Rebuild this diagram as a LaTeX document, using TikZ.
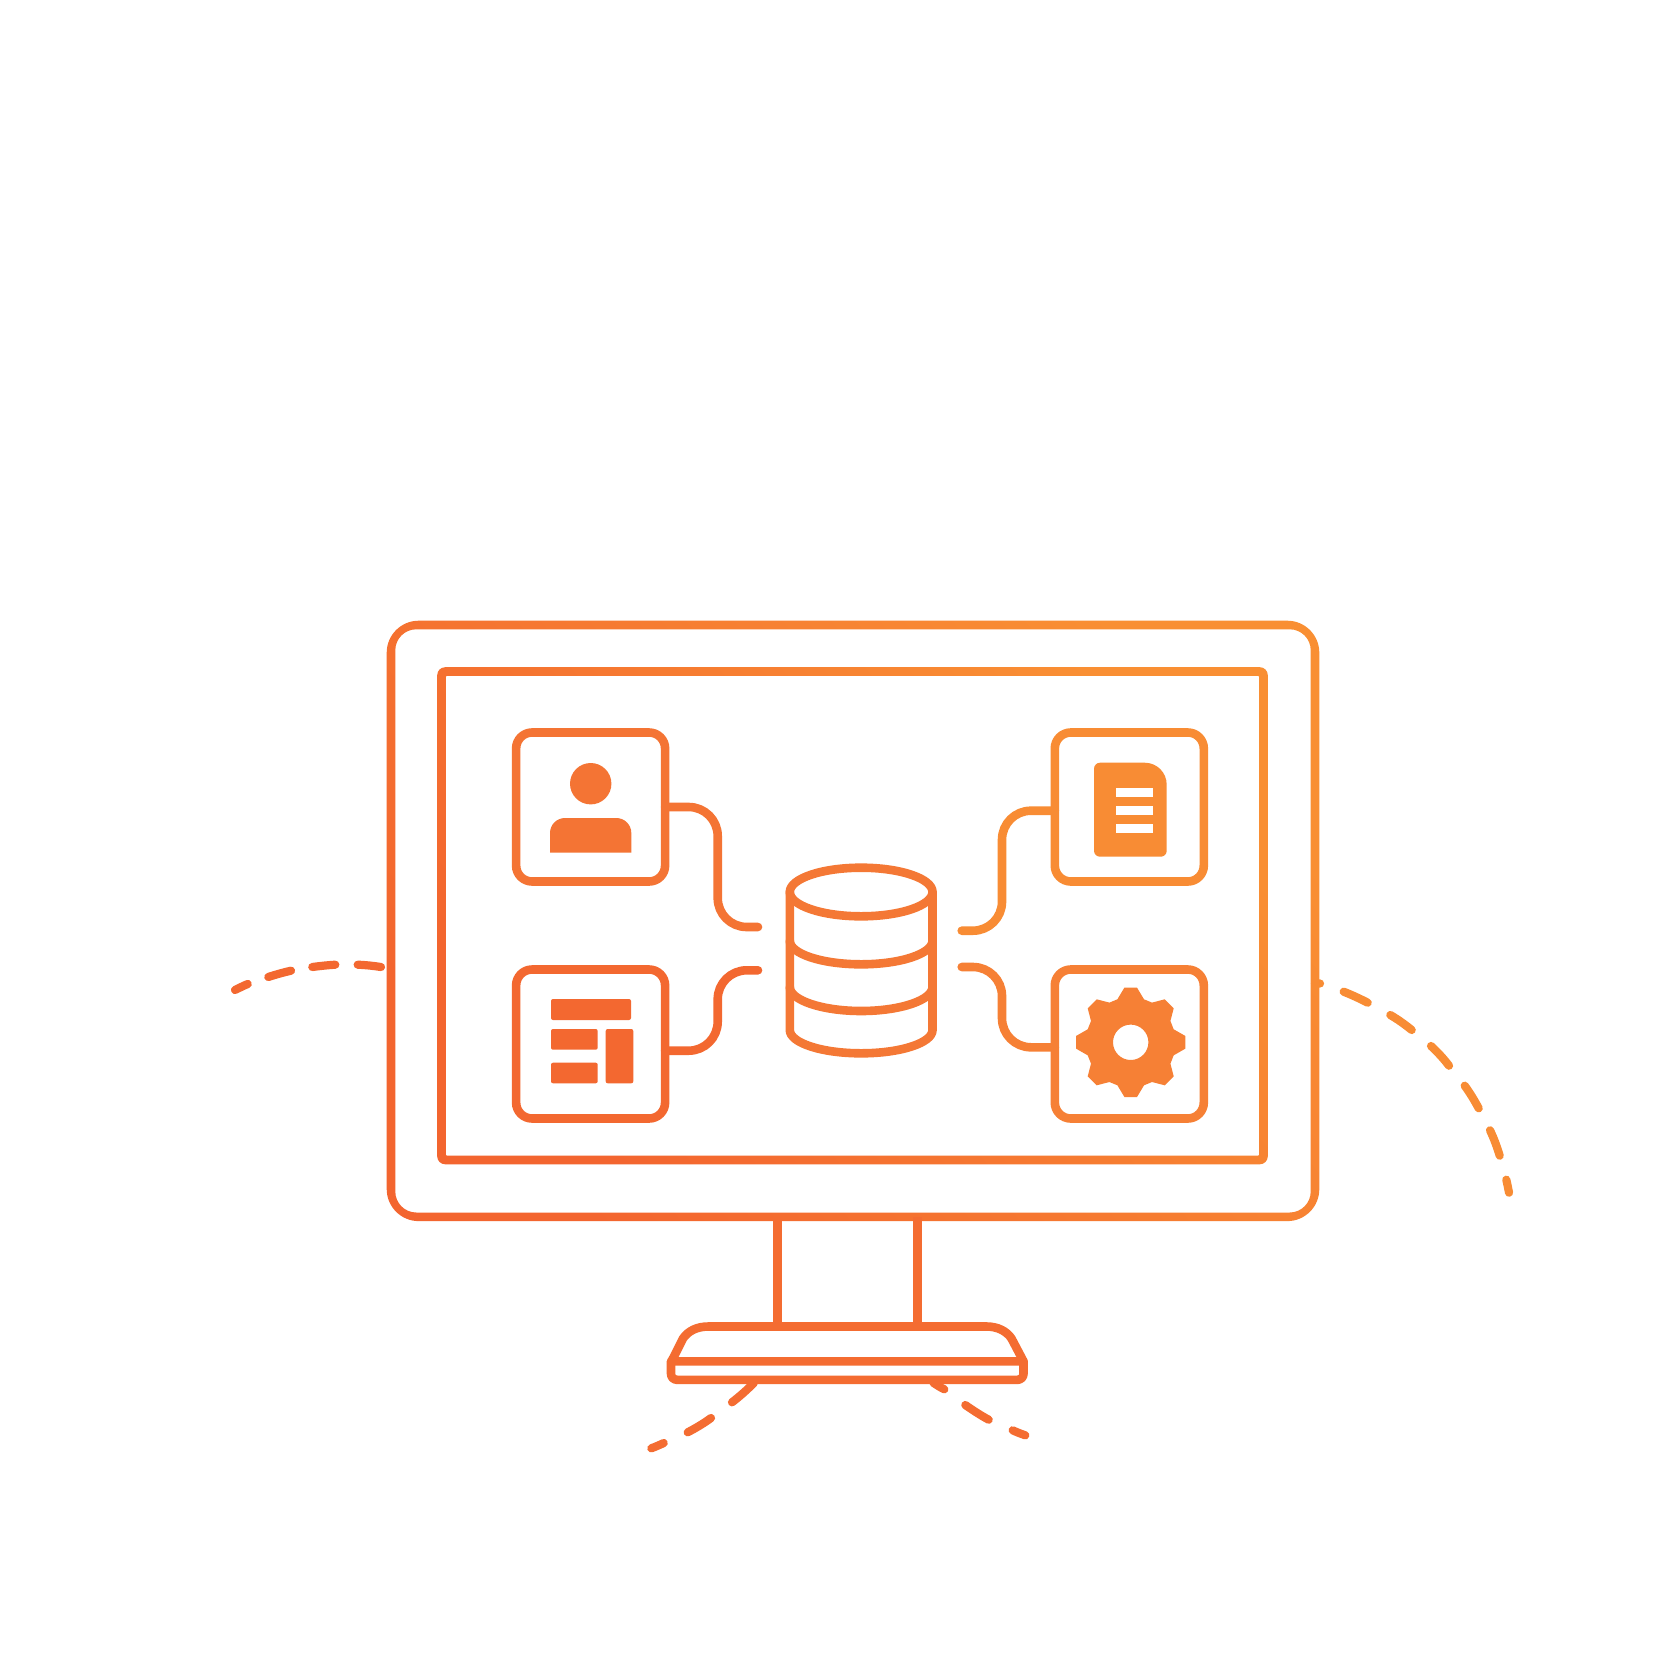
\documentclass[tikz,border=0pt]{standalone}
\usetikzlibrary{calc}
\definecolor{cA}{HTML}{F3652F}
\definecolor{cB}{HTML}{F98F33}
\definecolor{cLeftA}{HTML}{F47434}
\definecolor{cLeftB}{HTML}{F36830}
\definecolor{cRightA}{HTML}{F88C34}
\definecolor{cRightB}{HTML}{F68035}
\definecolor{cMid}{HTML}{F47835}
\definecolor{cStand}{HTML}{F46C31}
\tikzset{
  stroke/.style={line width=8.6pt,line join=round,line cap=round},
  iconbox/.style={draw=#1,fill=none,line width=8.6pt,rounded corners=16pt,
    minimum width=149pt,minimum height=149pt,inner sep=0pt,outer sep=0pt},
  link/.style={stroke,draw=#1,rounded corners=29pt},
  dashseg/.style={line width=8.2pt,line cap=round,draw=#1},
  gradring/.style={bottom color=cA,top color=cB,shading angle=-50,even odd rule},
}
\begin{document}
\begin{tikzpicture}[x=1pt,y=-1pt]
\useasboundingbox (0,0) rectangle (1667,1667);
\fill[white] (0,0) rectangle (1667,1667);

% dashed orbit
\draw[dashseg=cLeftB] (235,990) .. controls (239,988) and (243,986) .. (247.7,984);
\draw[dashseg=cLeftB] (268.3,977) .. controls (276,974.5) and (283,972.5) .. (291,970.7);
\draw[dashseg=cLeftB] (312.3,967) .. controls (320,966) and (327,965.2) .. (335.3,964.7);
\draw[dashseg=cLeftB] (357.7,964.7) .. controls (366,965) and (373,965.8) .. (381,967);
\draw[dashseg=cRightA] (1315,983.4) -- (1320,983.5);
\draw[dashseg=cRightA] (1343.7,991.7) .. controls (1352,995) and (1360,998.7) .. (1367.7,1002.7);
\draw[dashseg=cRightA] (1390.3,1015) .. controls (1398,1019.5) and (1405,1024.5) .. (1411.7,1030);
\draw[dashseg=cRightA] (1431,1046) .. controls (1437.5,1052) and (1443.5,1058.5) .. (1449,1065.7);
\draw[dashseg=cRightA] (1464.7,1085.7) .. controls (1470,1093) and (1474.5,1100.5) .. (1478.7,1108.3);
\draw[dashseg=cRightA] (1490,1130.3) .. controls (1494,1138.5) and (1497,1147) .. (1499.7,1155.7);
\draw[dashseg=cRightA] (1506.3,1179.7) .. controls (1507.3,1184) and (1508.2,1188.3) .. (1509,1192.7);
\draw[dashseg=cStand] (754,1382.7) .. controls (747,1390) and (739.5,1396.5) .. (732,1402.3);
\draw[dashseg=cStand] (711,1418) .. controls (703.5,1423.5) and (695.5,1428.2) .. (687.7,1432.3);
\draw[dashseg=cStand] (663.7,1443) .. controls (659.5,1445) and (655.5,1446.7) .. (651.3,1448.3);
\draw[dashseg=cStand] (933.3,1382.7) .. controls (937,1385.2) and (940.5,1387.5) .. (944.3,1389.3);
\draw[dashseg=cStand] (965.3,1405) .. controls (973,1410.3) and (980.5,1415.3) .. (988.7,1419.7);
\draw[dashseg=cStand] (1012.7,1430.3) .. controls (1016.7,1432.2) and (1021,1433.8) .. (1025.3,1435.3);

% monitor frame and screen
\shade[gradring]
  [rounded corners=32pt] (386.7,620.7) rectangle (1319.3,1221.1)
  [rounded corners=21pt] (395.3,629.3) rectangle (1310.7,1212.5);
\shade[gradring]
  [rounded corners=8pt] (437.2,667.2) rectangle (1267.8,1164.3)
  [rounded corners=1pt] (445.8,675.8) rectangle (1259.2,1155.7);

% stand
\draw[stroke,draw=cStand,line cap=butt] (777.3,1217) -- (777.3,1326.5);
\draw[stroke,draw=cStand,line cap=butt] (917.5,1217) -- (917.5,1326.5);
\draw[stroke,draw=cStand]
  (671.5,1361.3) -- (683,1338.5) .. controls (688,1331) and (697,1326.5) .. (708.3,1326.5)
  -- (986.5,1326.5) .. controls (997.5,1326.5) and (1006.5,1331) .. (1011.5,1338.5) -- (1023.5,1361.3) -- cycle;
\draw[stroke,draw=cStand,rounded corners=6pt]
  (671,1361.3) -- (671,1379.8) -- (1023.5,1379.8) -- (1023.5,1361.3);

% icon boxes
\node[iconbox=cLeftA]  (user)   at (590.6,807)  {};
\node[iconbox=cLeftB]  (layout) at (590.6,1044) {};
\node[iconbox=cRightA] (doc)    at (1129.3,807)  {};
\node[iconbox=cRightB] (gear)   at (1129.3,1044) {};

% connector ends and bend columns
\coordinate (userOut)   at (user.east);
\coordinate (layoutOut) at ([yshift=-6.7pt]layout.east);
\coordinate (docOut)    at ([yshift=-3.7pt]doc.west);
\coordinate (gearOut)   at ([yshift=-3.3pt]gear.west);
\coordinate (userEnd)   at (758,927);
\coordinate (layoutEnd) at (758,970.3);
\coordinate (docEnd)    at (961.7,930.7);
\coordinate (gearEnd)   at (961.7,967);
\coordinate (leftBus)   at (717.7,950);
\coordinate (rightBus)  at (1002,950);

\draw[link=cLeftA]  (userOut) -- (leftBus |- userOut) -- (leftBus |- userEnd) -- (userEnd);
\draw[link=cLeftB]  (layoutOut) -- (leftBus |- layoutOut) -- (leftBus |- layoutEnd) -- (layoutEnd);
\draw[link=cRightA] (docOut) -- (rightBus |- docOut) -- (rightBus |- docEnd) -- (docEnd);
\draw[link=cRightB] (gearOut) -- (rightBus |- gearOut) -- (rightBus |- gearEnd) -- (gearEnd);

% database
\draw[stroke,draw=cMid] (861.15,892) ellipse [x radius=71.35pt,y radius=24.3pt];
\draw[stroke,draw=cMid] (789.8,892) -- (789.8,1030)
  .. controls (789.8,1042.9) and (821.7,1053.3) .. (861.15,1053.3)
  .. controls (900.6,1053.3) and (932.5,1042.9) .. (932.5,1030) -- (932.5,892);
\draw[stroke,draw=cMid] (789.8,940.7)
  .. controls (789.8,953.7) and (821.7,964.3) .. (861.15,964.3)
  .. controls (900.6,964.3) and (932.5,953.7) .. (932.5,940.7);
\draw[stroke,draw=cMid] (789.8,987)
  .. controls (789.8,1000) and (821.7,1011) .. (861.15,1011)
  .. controls (900.6,1011) and (932.5,1000) .. (932.5,987);

% person icon
\fill[cLeftA] (590.7,783.7) circle [radius=20.7pt];
\fill[cLeftA] (550,852.7) -- (550,833) .. controls (550,824.7) and (556.7,818) .. (565,818)
  -- (616.3,818) .. controls (624.6,818) and (631.3,824.7) .. (631.3,833) -- (631.3,852.7) -- cycle;

% layout icon
\fill[cLeftB,rounded corners=2pt] (551,999) rectangle (631,1020);
\fill[cLeftB,rounded corners=2pt] (551,1029) rectangle (597.7,1049.7);
\fill[cLeftB,rounded corners=2pt] (551,1062.7) rectangle (597.7,1083.3);
\fill[cLeftB,rounded corners=2pt] (605.7,1029) rectangle (633.3,1083.3);

% document icon
\fill[cRightA] (1100,762.7) -- (1144.7,762.7)
  .. controls (1156.9,762.7) and (1166.7,772.5) .. (1166.7,784.7)
  -- (1166.7,850.7) .. controls (1166.7,854) and (1164,856.7) .. (1160.7,856.7)
  -- (1100,856.7) .. controls (1096.7,856.7) and (1094,854) .. (1094,850.7)
  -- (1094,768.7) .. controls (1094,765.4) and (1096.7,762.7) .. (1100,762.7) -- cycle;
\fill[white] (1116,788) rectangle (1152.7,797.3);
\fill[white] (1116,806) rectangle (1152.7,815.3);
\fill[white] (1116,824) rectangle (1152.7,833.3);

% gear icon
\fill[cRightB,even odd rule] (1130.7,1042.3)
  ++(-6.3,-54.7) -- ++(12.6,0) -- ++(7,11.7) -- ++(8,3.3) -- ++(12.7,-3.3) -- ++(9,9)
  -- ++(-3.3,12.7) -- ++(3.3,8.3) -- ++(11.7,6.7) -- ++(0,12.6) -- ++(-11.7,6.7)
  -- ++(-3.3,8.3) -- ++(3.3,12.7) -- ++(-9,9) -- ++(-12.7,-3.3) -- ++(-8,3.3)
  -- ++(-7,11.7) -- ++(-12.6,0) -- ++(-7,-11.7) -- ++(-8,-3.3) -- ++(-12.7,3.3)
  -- ++(-9,-9) -- ++(3.3,-12.7) -- ++(-3.3,-8.3) -- ++(-11.7,-6.7) -- ++(0,-12.6)
  -- ++(11.7,-6.7) -- ++(3.3,-8.3) -- ++(-3.3,-12.7) -- ++(9,-9) -- ++(12.7,3.3)
  -- ++(8,-3.3) -- cycle
  (1130.7,1042.3) circle [radius=17.7pt];
\end{tikzpicture}
\end{document}
